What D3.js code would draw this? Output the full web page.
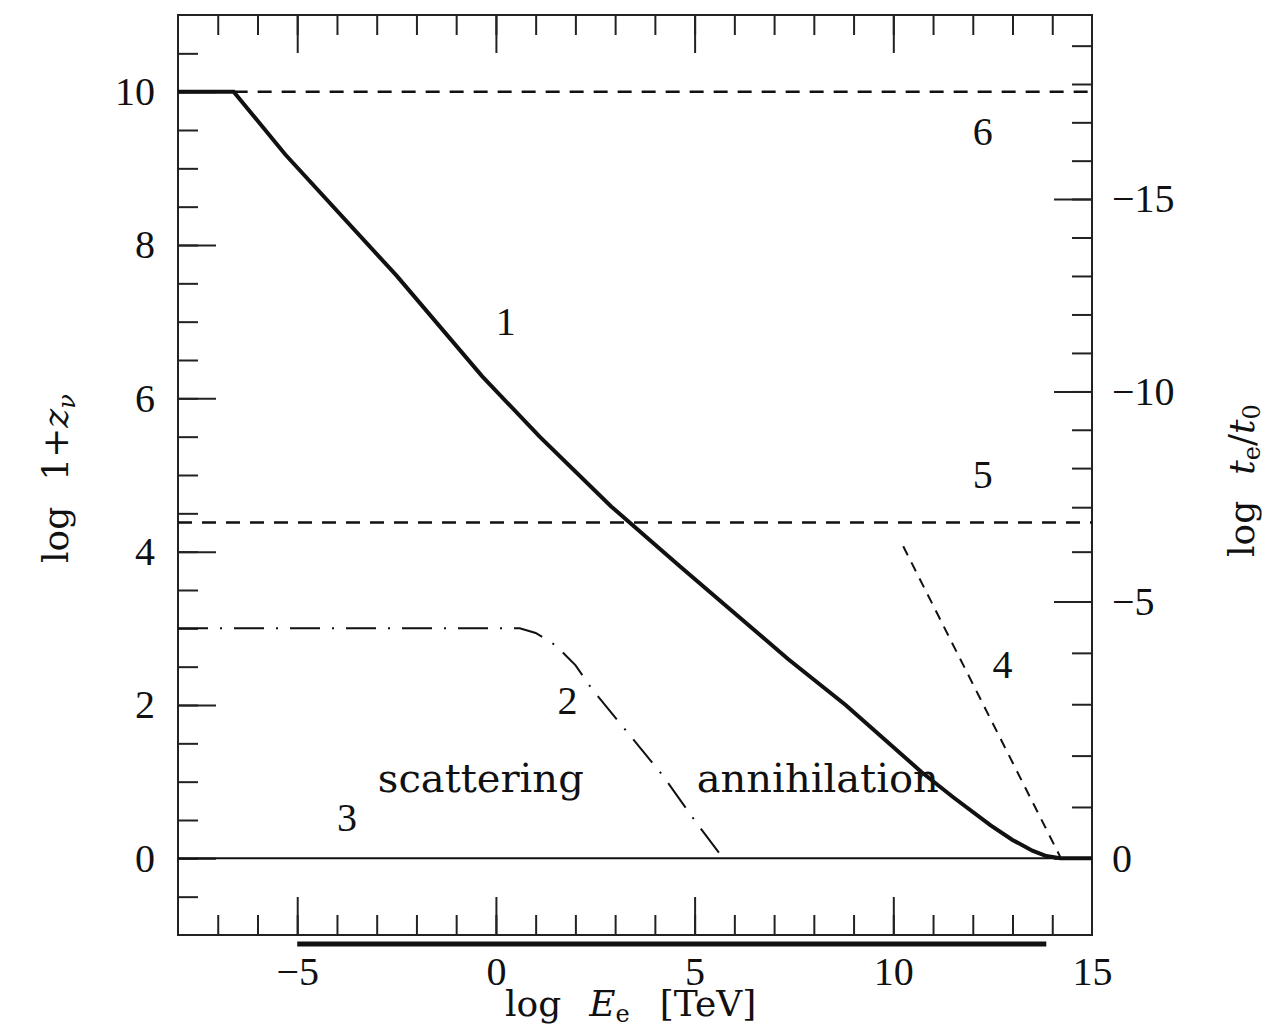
<!DOCTYPE html>
<html>
<head>
<meta charset="utf-8">
<script src="https://cdnjs.cloudflare.com/ajax/libs/d3/7.8.5/d3.min.js"></script>
<style>
  body { margin: 0; background: #fff; }
  svg { display: block; }
  .tick line { stroke: #222; stroke-width: 2; }
  .num { font-family: "Liberation Serif", serif; font-size: 40px; fill: #111; }
  .word { font-family: "DejaVu Serif", serif; font-size: 40px; fill: #111; }
  .title { font-family: "DejaVu Serif", serif; font-size: 36px; fill: #111; }
  .curve { fill: none; stroke: #111; }
</style>
</head>
<body>
<div id="chart"></div>
<script>

// values: x = log E_e [TeV], y = log(1+z)

var curve1X = [-8, -6.6, -5.3, -2.5, -0.35, 1.1, 2.9, 4.65, 7.35, 8.8, 10.7, 11.5, 12.45, 13.0, 13.5, 13.85, 14.2, 15];
var curve1Y = [10, 10, 9.18, 7.6, 6.29, 5.5, 4.59, 3.8, 2.6, 2.0, 1.13, 0.8, 0.43, 0.24, 0.1, 0.03, 0, 0];

var curve2X = [-8, 0.6, 1.0, 1.5, 2.0, 2.4, 3.3, 4.2, 5.05, 5.72];
var curve2Y = [3.0, 3.0, 2.94, 2.78, 2.52, 2.22, 1.65, 1.08, 0.46, 0];

var curve3X = [-8, 15];
var curve3Y = [0, 0];

var curve4X = [10.25, 14.22];
var curve4Y = [4.07, 0];

var curve5X = [-8, 15];
var curve5Y = [4.38, 4.38];

var curve6X = [-6.6, 15];
var curve6Y = [10, 10];

var curveNames = ["1", "2", "3", "4", "5", "6"];
var curveNameX = [0.25, 1.8, -3.75, 12.75, 12.25, 12.25];
var curveNameY = [7.0, 2.05, 0.53, 2.52, 5.0, 9.48];

var regionNames = ["scattering", "annihilation"];
var regionNameX = [-0.38, 8.1];
var regionNameY = [0.87, 0.87];

var energyBand = [-5, 13.85];

// right axis: log t_e/t_0 against log(1+z)
var rightT = [0, -4, -5, -6, -7, -8, -10, -15, -19];
var rightLogZ = [0, 2.68, 3.35, 4.0, 4.58, 5.09, 6.09, 8.6, 10.6];

var xMinor = d3.range(-7, 15, 1);
var xMajor = [-5, 0, 5, 10];
var xLabels = [-5, 0, 5, 10, 15];
var yMinor = d3.range(-0.5, 11, 0.5);
var yMajor = [0, 2, 4, 6, 8, 10];
var tMinor = d3.range(-19, 1, 1);
var tMajor = [-15, -10, -5, 0];

var width = 1272, height = 1032;
var plotLeft = 178, plotRight = 1092, plotTop = 15, plotBottom = 935;

var svg = d3.select("#chart").append("svg")
  .attr("width", width)
  .attr("height", height);

var x = d3.scaleLinear().domain([-8, 15]).range([plotLeft, plotRight]);
var y = d3.scaleLinear().domain([-1, 11]).range([plotBottom, plotTop]);
var t = d3.scaleLinear().domain(rightT).range(rightLogZ.map(y));

function tidy(g) {
  g.select(".domain").remove();
  g.selectAll("text").attr("class", "num");
}

function ticks(axis, pos, values, size, padding, withLabels) {
  var a = axis.tickValues(values).tickSize(-size).tickPadding(padding);
  if (!withLabels) a.tickFormat("");
  svg.append("g")
    .attr("transform", pos)
    .call(a)
    .call(tidy);
}

// bottom and top
ticks(d3.axisBottom(x), "translate(0," + plotBottom + ")", xMinor, 20, 0, false);
ticks(d3.axisBottom(x), "translate(0," + plotBottom + ")", xMajor, 38, 0, false);
ticks(d3.axisBottom(x), "translate(0," + plotBottom + ")", xLabels, 0, 22, true);
ticks(d3.axisTop(x), "translate(0," + plotTop + ")", xMinor, 20, 0, false);
ticks(d3.axisTop(x), "translate(0," + plotTop + ")", xMajor, 38, 0, false);

// left
ticks(d3.axisLeft(y), "translate(" + plotLeft + ",0)", yMinor, 20, 0, false);
ticks(d3.axisLeft(y), "translate(" + plotLeft + ",0)", yMajor, 38, 23, true);

// right
ticks(d3.axisRight(t), "translate(" + plotRight + ",0)", tMinor, 20, 0, false);
ticks(d3.axisRight(t), "translate(" + plotRight + ",0)", tMajor, 38, 20, true);

// frame
svg.append("rect")
  .attr("x", plotLeft)
  .attr("y", plotTop)
  .attr("width", plotRight - plotLeft)
  .attr("height", plotBottom - plotTop)
  .attr("fill", "none")
  .attr("stroke", "#222")
  .attr("stroke-width", 2);

// energy band under the axis
svg.append("line")
  .attr("x1", x(energyBand[0]))
  .attr("x2", x(energyBand[1]))
  .attr("y1", plotBottom + 9)
  .attr("y2", plotBottom + 9)
  .attr("stroke", "#111")
  .attr("stroke-width", 5);

var line = d3.line()
  .x(function(d) { return x(d[0]); })
  .y(function(d) { return y(d[1]); });

function curve(xs, ys, w, dash) {
  svg.append("path")
    .datum(d3.zip(xs, ys))
    .attr("class", "curve")
    .attr("d", line)
    .attr("stroke-width", w)
    .attr("stroke-dasharray", dash);
}

curve(curve3X, curve3Y, 2, null);
curve(curve5X, curve5Y, 2.5, "14,10");
curve(curve6X, curve6Y, 2.5, "14,10");
curve(curve2X, curve2Y, 2, "30,12,2,12");
curve(curve4X, curve4Y, 2, "10,8");
curve(curve1X, curve1Y, 4, null);

// curve numbers
svg.selectAll(".cname")
  .data(curveNames)
  .enter()
  .append("text")
  .attr("class", "num")
  .attr("text-anchor", "middle")
  .attr("dy", "0.33em")
  .attr("x", function(d, i) { return x(curveNameX[i]); })
  .attr("y", function(d, i) { return y(curveNameY[i]); })
  .text(function(d) { return d; });

svg.selectAll(".rname")
  .data(regionNames)
  .enter()
  .append("text")
  .attr("class", "word")
  .attr("text-anchor", "middle")
  .attr("x", function(d, i) { return x(regionNameX[i]); })
  .attr("y", function(d, i) { return y(regionNameY[i]); })
  .text(function(d) { return d; });

// axis titles
var xt = svg.append("text")
  .attr("class", "title")
  .attr("x", 505)
  .attr("y", 1016);
xt.append("tspan").text("log");
xt.append("tspan").attr("dx", 28).attr("font-style", "italic").text("E");
xt.append("tspan").attr("dy", 6).attr("font-size", 24).text("e");
xt.append("tspan").attr("dx", 30).attr("dy", -6).text("[TeV]");

var yt = svg.append("text")
  .attr("class", "title")
  .attr("transform", "translate(68,563) rotate(-90)");
yt.append("tspan").text("log");
yt.append("tspan").attr("dx", 26).text("1+");
yt.append("tspan").attr("font-style", "italic").text("z");
yt.append("tspan").attr("dy", 7).attr("font-size", 24).attr("font-style", "italic").text("ν");

var rt = svg.append("text")
  .attr("class", "title")
  .attr("transform", "translate(1254,557) rotate(-90)");
rt.append("tspan").text("log");
rt.append("tspan").attr("dx", 26).attr("font-style", "italic").text("t");
rt.append("tspan").attr("dy", 6).attr("font-size", 24).text("e");
rt.append("tspan").attr("dy", -6).text("/");
rt.append("tspan").attr("font-style", "italic").text("t");
rt.append("tspan").attr("dy", 6).attr("font-size", 24).text("0");

</script>
</body>
</html>
